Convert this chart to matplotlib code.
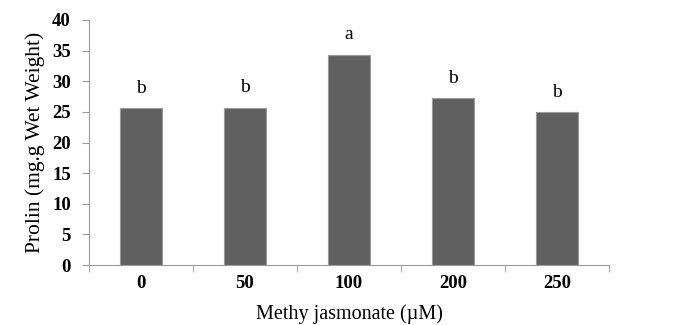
import numpy as np
import matplotlib.pyplot as plt

doses = ['0', '50', '100', '200', '250']
prolin = [25.6, 25.7, 34.3, 27.2, 24.9]
letters = ['b', 'b', 'a', 'b', 'b']

plt.rcParams['font.family'] = ['Liberation Serif', 'DejaVu Serif']

fig = plt.figure(figsize=(6.86, 3.25), dpi=100)
ax = fig.add_axes([89/686, 60/325, 520/686, 245/325])

x = np.arange(len(doses))
ax.bar(x, prolin, width=0.4, color='#606060', edgecolor='#9a9a9a', linewidth=0.8)

for xi, v, s in zip(x, prolin, letters):
    ax.text(xi, v + 1.9, s, ha='center', va='bottom', fontsize=14)

ax.set_xlim(-0.5, len(doses) - 0.5)
ax.set_ylim(0, 40)
ax.set_yticks(np.arange(0, 41, 5))
ax.set_xticks(x)
ax.set_xticklabels(doses, fontweight='bold', fontsize=13.5)
ax.set_xticks(np.arange(-0.5, len(doses), 1), minor=True)
ax.tick_params(axis='x', which='major', length=0, pad=7)
ax.tick_params(axis='x', which='minor', length=5, color='#9a9a9a', direction='out')
ax.tick_params(axis='y', length=5, color='#9a9a9a', direction='out', labelsize=13.5, pad=8)
for lab in ax.get_yticklabels():
    lab.set_fontweight('bold')

for side in ['top', 'right']:
    ax.spines[side].set_visible(False)
for side in ['left', 'bottom']:
    ax.spines[side].set_color('#9a9a9a')

ax.set_xlabel('Methy jasmonate (\u00b5M)', fontsize=14.5, labelpad=9)
ax.set_ylabel('Prolin (mg.g Wet Weight)', fontsize=15.5, labelpad=5)

fig.savefig('out.png', dpi=100)
